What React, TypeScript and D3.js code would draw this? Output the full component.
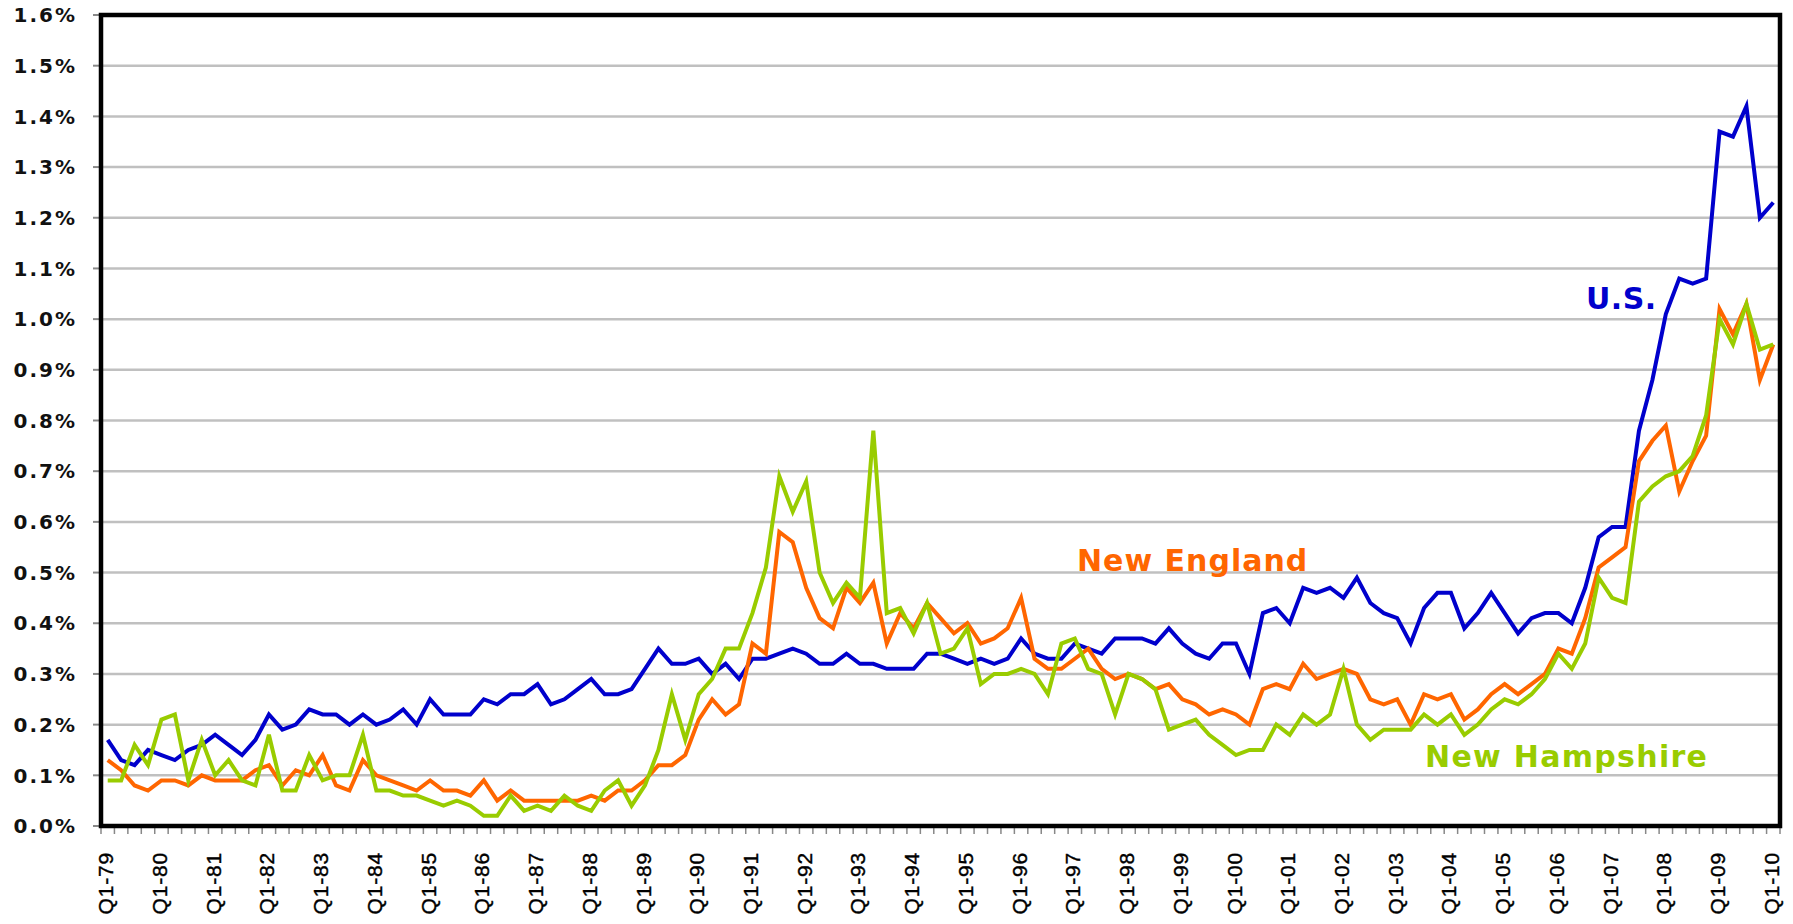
import React from "react";
import * as d3 from "d3";

// quarterly series, Q1-79 .. Q1-10 (percent)
const usValues = [
  0.17, 0.13, 0.12, 0.15, 0.14, 0.13, 0.15, 0.16, 0.18, 0.16, 0.14, 0.17, 0.22, 0.19, 0.20, 0.23, 0.22, 0.22, 0.20, 0.22, 0.20, 0.21,
  0.23, 0.20, 0.25, 0.22, 0.22, 0.22, 0.25, 0.24, 0.26, 0.26, 0.28, 0.24, 0.25, 0.27, 0.29, 0.26, 0.26, 0.27, 0.31, 0.35,
  0.32, 0.32, 0.33, 0.30, 0.32, 0.29, 0.33, 0.33, 0.34, 0.35, 0.34, 0.32, 0.32, 0.34, 0.32, 0.32, 0.31, 0.31, 0.31, 0.34, 0.34,
  0.33, 0.32, 0.33, 0.32, 0.33, 0.37, 0.34, 0.33, 0.33, 0.36, 0.35, 0.34, 0.37, 0.37, 0.37, 0.36, 0.39, 0.36, 0.34, 0.33, 0.36,
  0.36, 0.30, 0.42, 0.43, 0.40, 0.47, 0.46, 0.47, 0.45, 0.49, 0.44, 0.42, 0.41, 0.36, 0.43, 0.46, 0.46, 0.39, 0.42, 0.46, 0.42,
  0.38, 0.41, 0.42, 0.42, 0.40, 0.47, 0.57, 0.59, 0.59, 0.78, 0.88, 1.01, 1.08, 1.07, 1.08, 1.37, 1.36, 1.42, 1.20, 1.23,
];

const neValues = [
  0.13, 0.11, 0.08, 0.07, 0.09, 0.09, 0.08, 0.10, 0.09, 0.09, 0.09, 0.11, 0.12, 0.08, 0.11, 0.10, 0.14, 0.08, 0.07, 0.13, 0.10, 0.09,
  0.08, 0.07, 0.09, 0.07, 0.07, 0.06, 0.09, 0.05, 0.07, 0.05, 0.05, 0.05, 0.05, 0.05, 0.06, 0.05, 0.07, 0.07, 0.09, 0.12,
  0.12, 0.14, 0.21, 0.25, 0.22, 0.24, 0.36, 0.34, 0.58, 0.56, 0.47, 0.41, 0.39, 0.47, 0.44, 0.48, 0.36, 0.42, 0.39, 0.44, 0.41,
  0.38, 0.40, 0.36, 0.37, 0.39, 0.45, 0.33, 0.31, 0.31, 0.33, 0.35, 0.31, 0.29, 0.30, 0.29, 0.27, 0.28, 0.25, 0.24, 0.22, 0.23,
  0.22, 0.20, 0.27, 0.28, 0.27, 0.32, 0.29, 0.30, 0.31, 0.30, 0.25, 0.24, 0.25, 0.20, 0.26, 0.25, 0.26, 0.21, 0.23, 0.26, 0.28,
  0.26, 0.28, 0.30, 0.35, 0.34, 0.41, 0.51, 0.53, 0.55, 0.72, 0.76, 0.79, 0.66, 0.72, 0.77, 1.02, 0.97, 1.03, 0.88, 0.95,
];

const nhValues = [
  0.09, 0.09, 0.16, 0.12, 0.21, 0.22, 0.09, 0.17, 0.10, 0.13, 0.09, 0.08, 0.18, 0.07, 0.07, 0.14, 0.09, 0.10, 0.10, 0.18, 0.07, 0.07,
  0.06, 0.06, 0.05, 0.04, 0.05, 0.04, 0.02, 0.02, 0.06, 0.03, 0.04, 0.03, 0.06, 0.04, 0.03, 0.07, 0.09, 0.04, 0.08, 0.15,
  0.26, 0.17, 0.26, 0.29, 0.35, 0.35, 0.42, 0.51, 0.69, 0.62, 0.68, 0.50, 0.44, 0.48, 0.45, 0.78, 0.42, 0.43, 0.38, 0.44, 0.34,
  0.35, 0.39, 0.28, 0.30, 0.30, 0.31, 0.30, 0.26, 0.36, 0.37, 0.31, 0.30, 0.22, 0.30, 0.29, 0.27, 0.19, 0.20, 0.21, 0.18, 0.16,
  0.14, 0.15, 0.15, 0.20, 0.18, 0.22, 0.20, 0.22, 0.31, 0.20, 0.17, 0.19, 0.19, 0.19, 0.22, 0.20, 0.22, 0.18, 0.20, 0.23, 0.25,
  0.24, 0.26, 0.29, 0.34, 0.31, 0.36, 0.49, 0.45, 0.44, 0.64, 0.67, 0.69, 0.70, 0.73, 0.81, 1.00, 0.95, 1.03, 0.94, 0.95,
];

const tickLabels = [
  "Q1-79", "Q1-80", "Q1-81", "Q1-82", "Q1-83", "Q1-84", "Q1-85", "Q1-86", "Q1-87", "Q1-88", "Q1-89",
  "Q1-90", "Q1-91", "Q1-92", "Q1-93", "Q1-94", "Q1-95", "Q1-96", "Q1-97", "Q1-98", "Q1-99",
  "Q1-00", "Q1-01", "Q1-02", "Q1-03", "Q1-04", "Q1-05", "Q1-06", "Q1-07", "Q1-08", "Q1-09", "Q1-10",
];

const yTicks = [0, 0.1, 0.2, 0.3, 0.4, 0.5, 0.6, 0.7, 0.8, 0.9, 1.0, 1.1, 1.2, 1.3, 1.4, 1.5, 1.6];

const series = [
  { name: "U.S.", values: usValues, color: "#0000cc", label: [1586, 309], spacing: 0.5 },
  { name: "New England", values: neValues, color: "#ff6600", label: [1077, 571], spacing: 1 },
  { name: "New Hampshire", values: nhValues, color: "#99cc00", label: [1425, 767], spacing: 1.3 },
];

const W = 1793, H = 924;
const left = 101, right = 1780, top = 15, bottom = 826;

export default function App() {
  const n = usValues.length;
  const x = d3.scaleBand<number>().domain(d3.range(n)).range([left, right]);
  const y = d3.scaleLinear().domain([0, 1.6]).range([bottom, top]);
  const cx = (i: number) => (x(i) as number) + x.bandwidth() / 2;

  const line = d3.line<number>()
    .x((_, i) => cx(i))
    .y(d => y(d));

  return (
    <svg width={W} height={H} style={{ position: "absolute", left: 0, top: 0, display: "block", background: "#fff" }}>
      {/* gridlines */}
      {yTicks.slice(1, -1).map(t => (
        <line key={t} x1={left} x2={right} y1={y(t)} y2={y(t)} stroke="#c0c0c0" strokeWidth={2.5} />
      ))}
      {/* y ticks + labels */}
      {yTicks.map(t => (
        <g key={"y" + t}>
          <line x1={93} x2={left} y1={y(t)} y2={y(t)} stroke="#888" strokeWidth={2} />
          <text x={77} y={y(t)} dy="0.36em" textAnchor="end" letterSpacing={2}
            style={{ font: "bold 20px 'DejaVu Sans', Verdana, sans-serif" }} fill="#111">
            {t.toFixed(1) + "%"}
          </text>
        </g>
      ))}
      {/* x ticks */}
      {d3.range(n + 1).map(i => (
        <line key={"xt" + i} x1={left + i * x.step()} x2={left + i * x.step()} y1={bottom} y2={bottom + 8}
          stroke="#888" strokeWidth={1.5} />
      ))}
      {tickLabels.map((lab, k) => {
        const px = cx(k * 4) - 2;
        return (
          <text key={lab} transform={`translate(${px},852) rotate(-90)`} dy="0.36em" textAnchor="end"
            letterSpacing={0.8} stroke="#000" strokeWidth={0.4}
            style={{ font: "21px 'Liberation Sans', Arial, sans-serif" }} fill="#000">
            {lab}
          </text>
        );
      })}
      {/* series */}
      {series.map(s => (
        <path key={s.name} d={line(s.values) || ""} fill="none" stroke={s.color} strokeWidth={4}
          strokeLinejoin="miter" />
      ))}
      {/* frame */}
      <rect x={left} y={top} width={right - left} height={bottom - top} fill="none" stroke="#000" strokeWidth={4.5} />
      {series.map(s => (
        <text key={"l" + s.name} x={s.label[0]} y={s.label[1]} fill={s.color} letterSpacing={s.spacing}
          style={{ font: "bold 30px 'DejaVu Sans', Verdana, sans-serif" }}>
          {s.name}
        </text>
      ))}
    </svg>
  );
}
